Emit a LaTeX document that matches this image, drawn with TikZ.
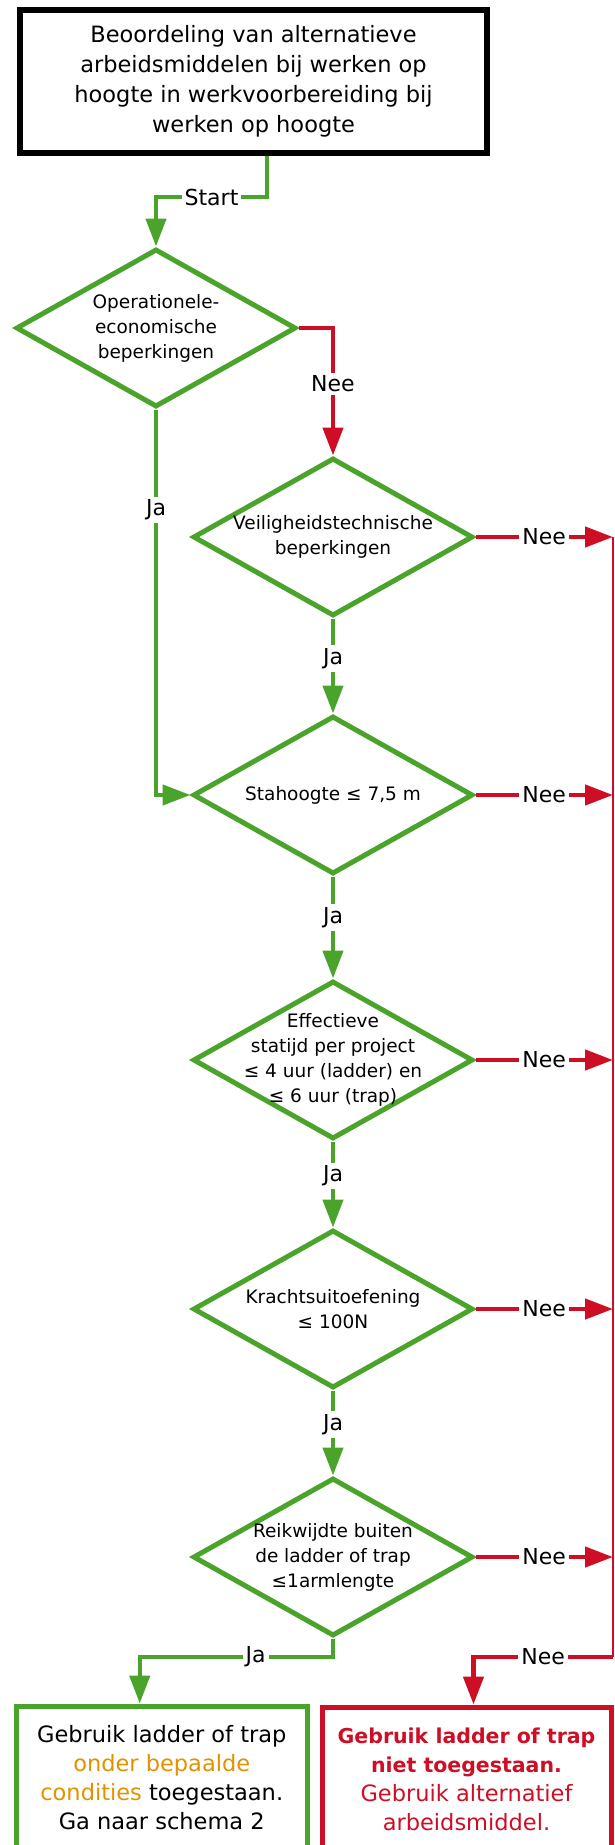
\documentclass[tikz,border=0pt]{standalone}
\usepackage{fontspec}
\setmainfont{DejaVu Sans}
\usepackage{xcolor}
\usetikzlibrary{shapes.geometric,arrows.meta,positioning}

\definecolor{flowgreen}{RGB}{74,164,44}
\definecolor{flowred}{RGB}{206,14,36}
\definecolor{floworange}{RGB}{226,146,0}

\tikzset{
  decision/.style={diamond, draw=flowgreen, line width=5pt, inner sep=0pt,
    minimum width=280pt, minimum height=158pt},
  dtext/.style={font=\fontsize{18.5}{25}\selectfont, align=center, inner sep=0pt},
  endbox/.style={rectangle, line width=5pt, inner sep=0pt, align=center,
    font=\fontsize{22.5}{29}\selectfont},
  lab/.style={fill=white, inner sep=3pt, text=black, font=\fontsize{22}{22}\selectfont},
  yes/.style={draw=flowgreen, line width=4.5pt, -{Triangle[length=28pt,width=20pt]}},
  no/.style={draw=flowred, line width=4.5pt, -{Triangle[length=28pt,width=20pt]}},
}

\begin{document}
\begin{tikzpicture}[x=1pt,y=-1pt]
\useasboundingbox (0,0) rectangle (615,1845);
\clip (0,0) rectangle (615,1845);

% Title
\node[draw=black, line width=6pt, minimum width=467pt, minimum height=143pt,
  inner sep=0pt, align=center, font=\fontsize{22.5}{30}\selectfont] (title) at (253.5,81)
  {Beoordeling van alternatieve\\arbeidsmiddelen bij werken op\\hoogte in werkvoorbereiding bij\\werken op hoogte};

% Decisions
\node[decision, label={[dtext]center:{Operationele-\\economische\\beperkingen}}] (ops) at (156,328) {};
\node[decision, label={[dtext]center:{Veiligheidstechnische\\beperkingen}}] (safety) at (333,537) {};
\node[decision, label={[dtext]center:{Stahoogte ≤ 7,5 m}}] (height) at (333,795) {};
\node[decision, label={[dtext]center:{Effectieve\\statijd per project\\≤ 4 uur (ladder) en\\≤ 6 uur (trap)}}] (time) at (333,1060) {};
\node[decision, label={[dtext]center:{Krachtsuitoefening\\≤ 100N}}] (force) at (333,1309) {};
\node[decision, label={[dtext]center:{Reikwijdte buiten\\de ladder of trap\\≤1armlengte}}] (reach) at (333,1557) {};

% Outcomes
\node[endbox, draw=flowgreen, minimum width=291.5pt, minimum height=144pt] (allowed) at (161.75,1778)
  {Gebruik ladder of trap\\{\color{floworange}onder bepaalde}\\{\color{floworange}condities} toegestaan.\\Ga naar schema 2};
\node[endbox, draw=flowred, text=flowred, minimum width=289pt, minimum height=145pt] (denied) at (466.5,1779.5)
  {{\fontsize{20.5}{29}\selectfont\bfseries Gebruik ladder of trap}\\{\fontsize{20.5}{29}\selectfont\bfseries niet toegestaan.}\\Gebruik alternatief\\arbeidsmiddel.};

% Bends
\coordinate (startbend) at (267,197);
\coordinate (railtop) at (613,537);
\coordinate (railbot) at (613,1657);
\coordinate (jabend) at (333,1657);

% Yes path
\draw[yes] (title.south -| startbend) -- (startbend) -| node[lab,pos=0.25] {Start} (ops.north);
\draw[yes] (ops.south) |- node[lab,pos=0.13] {Ja} (height.west);
\draw[yes] (safety.south) -- node[lab,pos=0.42] {Ja} (height.north);
\draw[yes] (height.south) -- node[lab,pos=0.4] {Ja} (time.north);
\draw[yes] (time.south) -- node[lab,pos=0.4] {Ja} (force.north);
\draw[yes] (force.south) -- node[lab,pos=0.4] {Ja} (reach.north);
\draw[yes] (reach.south) -- (jabend) -| node[lab,pos=0.2] {Ja} ([xshift=-22pt]allowed.north);

% No path
\draw[no] (ops.east) -| node[lab,pos=0.72] {Nee} (safety.north);
\foreach \q in {safety,height,time,force,reach}
  \draw[no] (\q.east) -- node[lab] {Nee} (\q.east -| railtop);
\draw[flowred, line width=2pt] (railtop) -- (railbot);
\draw[no] (railbot) -| node[lab,pos=0.25] {Nee} ([xshift=7pt]denied.north);
\end{tikzpicture}
\end{document}
